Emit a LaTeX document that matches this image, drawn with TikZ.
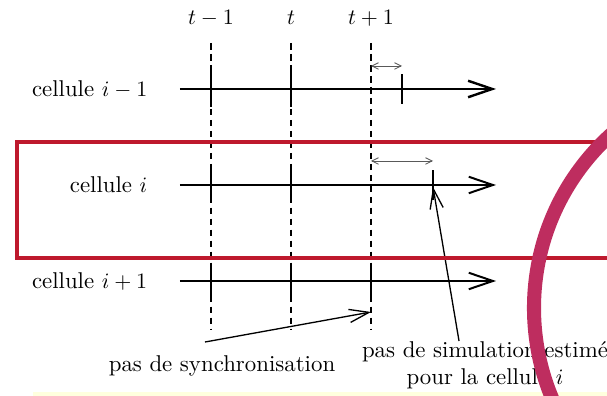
\documentclass[tikz,border=0pt]{standalone}
\usepackage{amsmath}
\usepackage{xcolor}
\usepackage{tikz}
\usetikzlibrary{arrows.meta}
\definecolor{framered}{RGB}{190, 25, 45}
\definecolor{arcmagenta}{RGB}{190, 45, 95}
\definecolor{paleyellow}{RGB}{255, 255, 222}

\begin{document}
\begin{tikzpicture}[scale=0.64,
        every node/.style={font=\fontsize{10.4pt}{12.5pt}\selectfont},
        syncline/.style={line width=0.9pt, dash pattern=on 3pt off 2pt},
        timeaxis/.style={-{Straight Barb[length=11pt, width=7.5pt]}, line width=0.9pt},
        synctick/.style={line width=0.9pt},
        gap/.style={{Straight Barb[length=3pt, width=3pt]}-{Straight Barb[length=3pt, width=3pt]},
                    black!65, line width=0.4pt},
        note/.style={-{Straight Barb[length=9pt, width=6pt]}, line width=0.6pt},
        rowlabel/.style={anchor=east}]
    \useasboundingbox (-5.275,-5.275) rectangle (9.9,4.625);
    \fill[paleyellow] (-4.45,-5.175) rectangle (9.9,-5.275);
    % instants de synchronisation
    \node (tm) at (0,4.175) {$t-1$};
    \node (t0) at (2,4.175) {$t$};
    \node (tp) at (4,4.175) {$t+1$};
    \draw[syncline] (0,3.55) -- (0,-3.625);
    \draw[syncline] (2,3.55) -- (2,-3.625);
    \draw[syncline] (4,3.55) -- (4,-3.625);
    % cellules
    \node[rowlabel] (cprev) at (-1.4, 2.4) {cellule $i-1$};
    \node[rowlabel] (ccur)  at (-1.4, 0)   {cellule $i$};
    \node[rowlabel] (cnext) at (-1.4,-2.4) {cellule $i+1$};
    \draw[timeaxis, line width=1.1pt] (-0.775, 2.4) -- (7.125, 2.4);
    \draw[timeaxis] (-0.775, 0)   -- (7.125, 0);
    \draw[timeaxis] (-0.775,-2.4) -- (7.125,-2.4);
    \draw[synctick] (0, 1.95) -- (0, 2.85);
    \draw[synctick] (2, 1.95) -- (2, 2.85);
    \draw[synctick] (4.775, 2.025) -- (4.775, 2.775);
    \draw[synctick] (0,-0.45) -- (0, 0.45);
    \draw[synctick] (2,-0.45) -- (2, 0.45);
    \draw[synctick] (5.55,-0.375) -- (5.55, 0.375);
    \draw[synctick] (0,-2.85) -- (0,-1.95);
    \draw[synctick] (2,-2.85) -- (2,-1.95);
    \draw[synctick] (4,-2.85) -- (4,-1.95);
    \draw[gap] (4,2.975) -- (4.775,2.975);
    \draw[gap] (4,0.6) -- (5.55,0.6);
    % legendes
    \node (sync) at (0.275,-4.525) {pas de synchronisation};
    \node[align=center] (sim) at (6.85,-4.5) {pas de simulation estimé\\pour la cellule $i$};
    \coordinate (synctail) at (-0.15,-3.925);
    \coordinate (synctip) at (4,-3.175);
    \coordinate (simtail) at (6.2,-3.9);
    \coordinate (esttick) at (5.55,-0.05);
    \draw[note] (synctail) -- (synctip);
    \draw[note] (simtail) -- (esttick);
    % cadre et arc de la diapositive
    \draw[framered, line width=1.7pt] (-4.85,1.075) rectangle (10.5,-1.825);
    \draw[arcmagenta, line width=6.4pt] (13.925,-3.075) circle (5.85);
\end{tikzpicture}
\end{document}
